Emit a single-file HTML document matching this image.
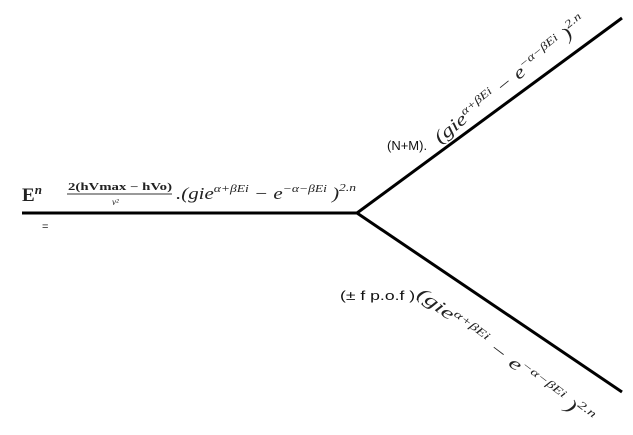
<!DOCTYPE html>
<html><head><meta charset="utf-8"><style>
html,body{margin:0;padding:0;background:#fff;width:633px;height:435px;overflow:hidden}
svg{display:block}
</style></head><body>
<svg width="633" height="435" viewBox="0 0 633 435" xmlns="http://www.w3.org/2000/svg">
<g stroke="#000" stroke-width="3" fill="none">
<line x1="22" y1="213" x2="358" y2="213"/>
<line x1="357" y1="213" x2="622" y2="18"/>
<line x1="357" y1="213" x2="622" y2="392"/>
</g>
<g font-family="Liberation Serif, serif" fill="#222">
<text x="22" y="201" font-size="19" font-weight="bold">E<tspan font-size="13" font-style="italic" dy="-7">n</tspan></text>
<text x="42" y="230" font-size="11" font-family="Liberation Sans, sans-serif">=</text>
<text x="68" y="190" font-size="10" font-weight="bold" textLength="104" lengthAdjust="spacingAndGlyphs">2(hVmax − hVo)</text>
<line x1="67" y1="194" x2="172" y2="194" stroke="#333" stroke-width="1"/>
<text x="112" y="205" font-size="9" font-style="italic">v²</text>
<text x="176" y="199" font-size="17" font-style="italic" textLength="180" lengthAdjust="spacingAndGlyphs">.(gie<tspan font-size="11" dy="-7">α+βEi</tspan><tspan dy="7"> − e</tspan><tspan font-size="11" dy="-7">−α−βEi</tspan><tspan dy="7"> )</tspan><tspan font-size="11" dy="-8">2.n</tspan></text>
<text transform="translate(440,144) rotate(-39)" font-size="18" font-style="italic" textLength="190" lengthAdjust="spacingAndGlyphs">(gie<tspan font-size="11" dy="-7">α+βEi</tspan><tspan dy="7"> − e</tspan><tspan font-size="11" dy="-7">−α−βEi</tspan><tspan dy="7"> )</tspan><tspan font-size="11" dy="-9">2.n</tspan></text>
<text transform="translate(416,296) rotate(37)" font-size="18" font-style="italic" textLength="215" lengthAdjust="spacingAndGlyphs">(gie<tspan font-size="11" dy="-7">α+βEi</tspan><tspan dy="7"> − e</tspan><tspan font-size="11" dy="-7">−α−βEi</tspan><tspan dy="7"> )</tspan><tspan font-size="11" dy="-9">2.n</tspan></text>
</g>
<g font-family="Liberation Sans, sans-serif" font-size="13" fill="#111">
<text x="387" y="150">(N+M).</text>
<text x="340" y="300" textLength="80" lengthAdjust="spacingAndGlyphs">(± f p.o.f ).</text>
</g>
</svg>
</body></html>
